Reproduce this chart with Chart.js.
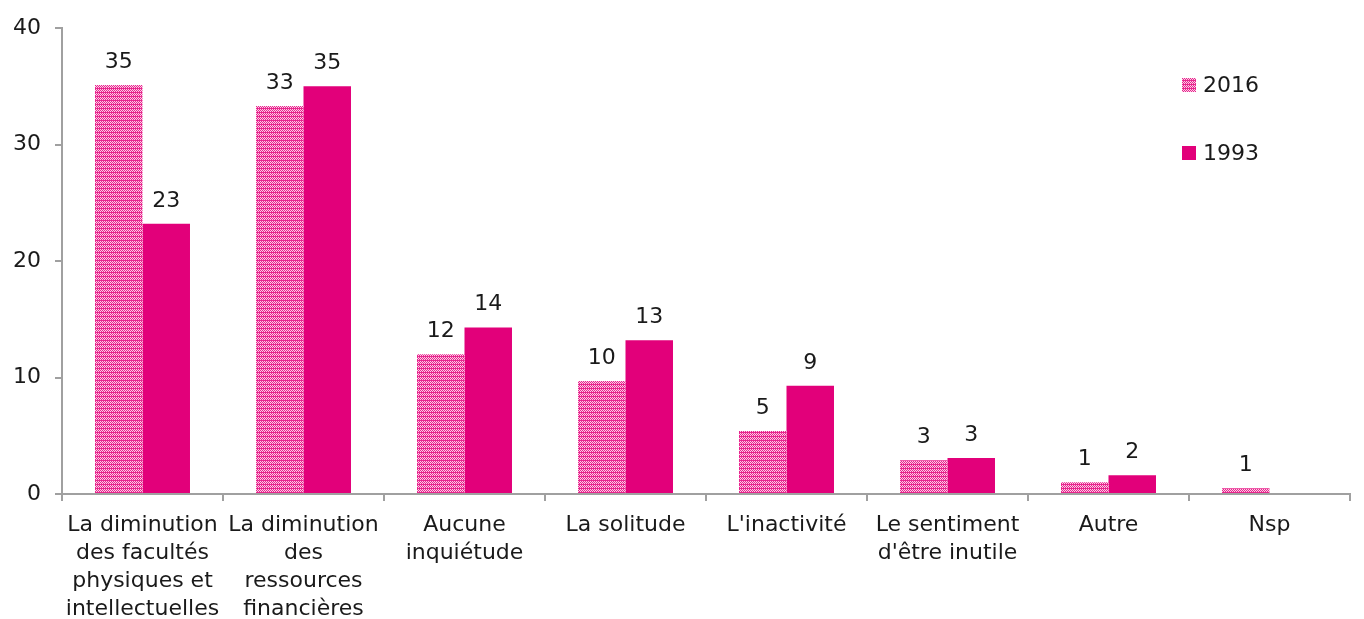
<!DOCTYPE html>
<html lang="fr">
<head>
<meta charset="utf-8">
<title>Inquiétudes liées à la vieillesse</title>
<script src="https://cdn.jsdelivr.net/npm/chart.js@4.4.1/dist/chart.umd.min.js"></script>
<style>
  html, body { margin: 0; padding: 0; background: #fff; }
  #wrap { position: relative; width: 1364px; height: 619px; }
</style>
</head>
<body>
<div id="wrap"><canvas id="worryChart"></canvas></div>
<script>
// Categories and values (%)
const categories = [
    ['La diminution', 'des facultés', 'physiques et', 'intellectuelles'],
    ['La diminution', 'des', 'ressources', 'financières'],
    ['Aucune', 'inquiétude'],
    'La solitude',
    "L'inactivité",
    ['Le sentiment', "d'être inutile"],
    'Autre',
    'Nsp'
];
const values2016 = [35.1, 33.3, 12.0, 9.7, 5.4, 2.9, 1.0, 0.5];
const values1993 = [23.2, 35.0, 14.3, 13.2, 9.3, 3.1, 1.6, null];
const seriesLabels = ['2016', '1993'];
const yTicks = [0, 10, 20, 30, 40];

const FONT = '"DejaVu Sans", Verdana, sans-serif';
const FONT_SIZE = 22;
const TEXT = '#1a1a1a';
const AXIS = '#a0a0a0';
const MAGENTA = '#e2007a';

// Small checkered fill used for the 2016 bars
function makeCheckPattern() {
    const c = document.createElement('canvas');
    c.width = 4; c.height = 4;
    const g = c.getContext('2d');
    g.fillStyle = '#fbcfe6';
    g.fillRect(0, 0, 4, 4);
    g.fillStyle = '#e8258e';
    for (let y = 0; y < 4; y++) {
        for (let x = 0; x < 4; x++) {
            if ((x + y) % 2 === 0) g.fillRect(x, y, 1, 1);
        }
    }
    g.fillRect(0, 0, 4, 1);
    return g.createPattern(c, 'repeat');
}
const checkFill = makeCheckPattern();

// Rounded value above each bar
const valueLabels = {
    id: 'valueLabels',
    afterDatasetsDraw(chart) {
        const ctx = chart.ctx;
        ctx.save();
        ctx.font = FONT_SIZE + 'px ' + FONT;
        ctx.fillStyle = TEXT;
        ctx.textAlign = 'center';
        ctx.textBaseline = 'alphabetic';
        chart.data.datasets.forEach((ds, i) => {
            chart.getDatasetMeta(i).data.forEach((bar, j) => {
                const v = ds.data[j];
                if (v == null) return;
                ctx.fillText(String(Math.round(v)), bar.x, bar.y - 17);
            });
        });
        ctx.restore();
    }
};

// Legend drawn inside the plot, top right
const insideLegend = {
    id: 'insideLegend',
    afterDraw(chart) {
        const ctx = chart.ctx;
        const x = chart.chartArea.right - 168;
        let y = chart.chartArea.top + 57;
        ctx.save();
        ctx.font = FONT_SIZE + 'px ' + FONT;
        ctx.textBaseline = 'middle';
        chart.data.datasets.forEach(ds => {
            ctx.fillStyle = ds.backgroundColor;
            ctx.fillRect(x, y - 7, 14, 14);
            ctx.fillStyle = TEXT;
            ctx.fillText(ds.label, x + 21, y + 1);
            y += 68;
        });
        ctx.restore();
    }
};

new Chart(document.getElementById('worryChart'), {
    type: 'bar',
    data: {
        labels: categories,
        datasets: [
            {
                label: seriesLabels[0],
                data: values2016,
                backgroundColor: checkFill,
                borderWidth: 0,
                categoryPercentage: 0.59,
                barPercentage: 1.0
            },
            {
                label: seriesLabels[1],
                data: values1993,
                backgroundColor: MAGENTA,
                borderWidth: 0,
                categoryPercentage: 0.59,
                barPercentage: 1.0
            }
        ]
    },
    options: {
        responsive: true,
        maintainAspectRatio: false,
        animation: false,
        layout: { padding: { top: 28, right: 14, bottom: 0, left: 0 } },
        plugins: {
            legend: { display: false },
            tooltip: { enabled: false }
        },
        scales: {
            x: {
                afterFit(scale) { scale.height = 125; },
                border: { color: AXIS, width: 2 },
                grid: {
                    drawOnChartArea: false,
                    color: AXIS,
                    lineWidth: 2,
                    tickLength: 7
                },
                ticks: {
                    color: TEXT,
                    font: { family: FONT, size: FONT_SIZE, lineHeight: 1.27 },
                    padding: 10,
                    maxRotation: 0,
                    autoSkip: false
                }
            },
            y: {
                min: 0,
                max: 40,
                afterFit(scale) { scale.width = 62; },
                afterBuildTicks(scale) {
                    scale.ticks = yTicks.map(v => ({ value: v }));
                },
                border: { color: AXIS, width: 2 },
                grid: {
                    drawOnChartArea: false,
                    color: AXIS,
                    lineWidth: 2,
                    tickLength: 7
                },
                ticks: {
                    color: TEXT,
                    font: { family: FONT, size: FONT_SIZE },
                    padding: 14
                }
            }
        }
    },
    plugins: [valueLabels, insideLegend]
});
</script>
</body>
</html>
